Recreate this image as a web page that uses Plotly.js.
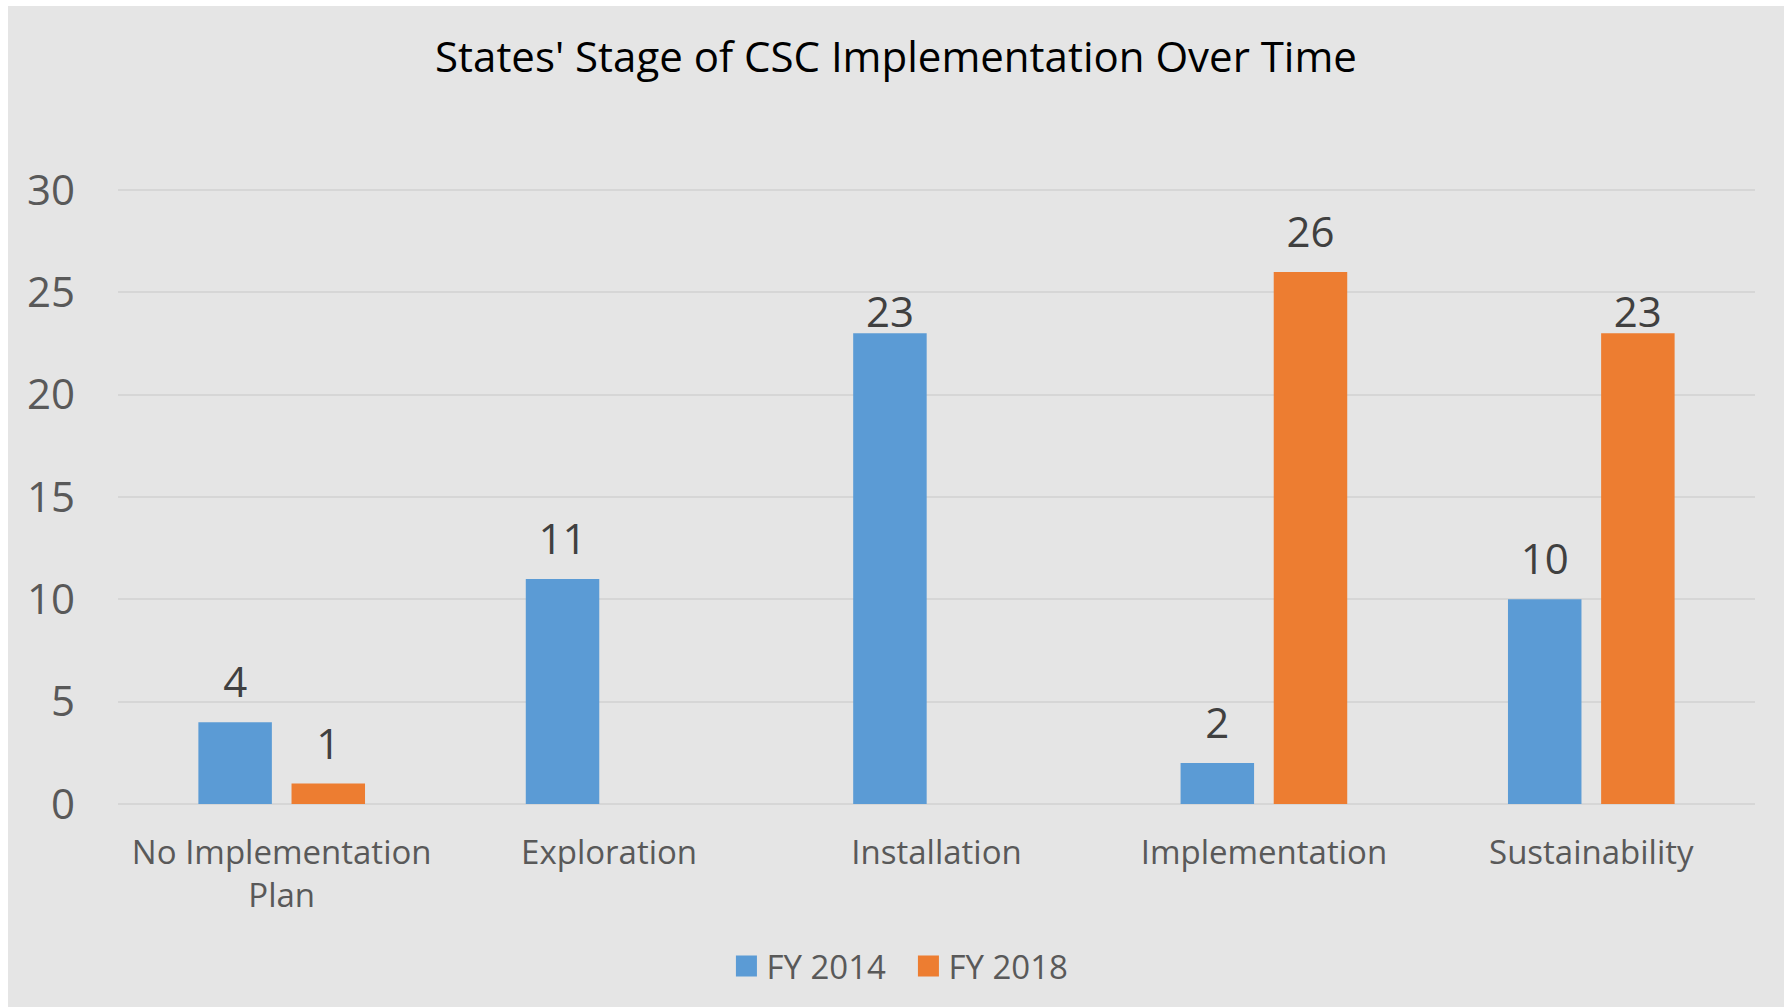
<!DOCTYPE html>
<html>
<head>
<meta charset="utf-8">
<script src="https://cdn.plot.ly/plotly-3.0.1.min.js"></script>
<style>
  html, body { margin: 0; padding: 0; background: #ffffff; }
  #chart { position: absolute; left: 8px; top: 6px; width: 1776px; height: 1001px; }
</style>
</head>
<body>
<div id="chart"></div>
<script>
// ---- data ----
const categories = ["No Implementation<br>Plan", "Exploration", "Installation", "Implementation", "Sustainability"];
const fy2014 = [4, 11, 23, 2, 10];
const fy2018 = [1, null, null, 26, 23];
const seriesNames = ["FY 2014", "FY 2018"];
const yTicks = [0, 5, 10, 15, 20, 25, 30];
const chartTitle = "States' Stage of CSC Implementation Over Time";

const FONT = "'Open Sans', 'Noto Sans', sans-serif";

function barTrace(name, values, color) {
  return {
    type: 'bar',
    name: name,
    x: categories,
    y: values,
    marker: { color: color, line: { width: 0 } },
    text: values.map(v => v === null ? '' : String(v)),
    texttemplate: '%{text}',
    textposition: 'outside',
    constraintext: 'none',
    cliponaxis: false,
    textfont: { family: FONT, size: 42, color: '#404040' },
    hoverinfo: 'x+y'
  };
}

const data = [
  barTrace(seriesNames[0], fy2014, '#5b9bd5'),
  barTrace(seriesNames[1], fy2018, '#ed7d31')
];

const layout = {
  width: 1776,
  height: 1001,
  paper_bgcolor: '#e5e5e5',
  plot_bgcolor: '#e5e5e5',
  margin: { l: 110, r: 29, t: 182.5, b: 202.5, pad: 0 },
  barmode: 'group',
  bargap: 0.431,
  bargroupgap: 0.211,
  title: {
    text: chartTitle,
    font: { family: FONT, size: 42, color: '#000000' },
    x: 0.5, xref: 'container', xanchor: 'center',
    y: 0.949, yref: 'container', yanchor: 'middle'
  },
  xaxis: {
    type: 'category',
    showgrid: false,
    zeroline: false,
    showline: false,
    ticks: '',
    ticklabelstandoff: 26,
    tickfont: { family: FONT, size: 33, color: '#595959' }
  },
  yaxis: {
    range: [0, 30.05],
    tickvals: yTicks,
    ticktext: yTicks.map(String),
    showgrid: true,
    gridcolor: '#d6d6d6',
    gridwidth: 2,
    zeroline: true,
    zerolinecolor: '#d6d6d6',
    zerolinewidth: 2,
    showline: false,
    ticks: '',
    ticklabelstandoff: 42,
    tickfont: { family: FONT, size: 42, color: '#595959' }
  },
  showlegend: true,
  legend: {
    orientation: 'h',
    x: 0.507, xref: 'container', xanchor: 'center',
    y: 0.041, yref: 'container', yanchor: 'middle',
    bgcolor: 'rgba(0,0,0,0)',
    entrywidth: 137,
    entrywidthmode: 'pixels',
    font: { family: FONT, size: 33, color: '#595959' },
    traceorder: 'normal'
  }
};

const SWATCH = 21;      // legend swatch size (px)
const LABEL_LIFT = 10;  // extra lift of data labels (px)
const LOW_LABEL = '23'; // labels that sit tucked under the 25 gridline in the original
const LOW_DROP = 19;    // how much lower those labels sit (px)

function tweak(gd) {
  gd.querySelectorAll('.legend .legendpoints path').forEach(p => {
    if (p.dataset.sized) return;
    const bb = p.getBBox();
    if (!bb.width || !bb.height) return;
    const cx = bb.x + bb.width / 2, cy = bb.y + bb.height / 2;
    const old = p.getAttribute('transform') || '';
    p.setAttribute('transform', old + ` translate(${cx},${cy}) scale(${SWATCH / bb.width},${SWATCH / bb.height}) translate(${-cx},${-cy})`);
    p.dataset.sized = '1';
  });
  gd.querySelectorAll('.bartext').forEach(t => {
    if (t.dataset.lifted) return;
    const tr = t.getAttribute('transform') || '';
    const dy = (t.textContent.trim() === LOW_LABEL) ? (LOW_DROP - LABEL_LIFT) : -LABEL_LIFT;
    t.setAttribute('transform', `translate(0,${dy}) ` + tr);
    t.dataset.lifted = '1';
  });
}

Plotly.newPlot('chart', data, layout, { displayModeBar: false, staticPlot: true })
  .then(gd => tweak(gd));
</script>
</body>
</html>
